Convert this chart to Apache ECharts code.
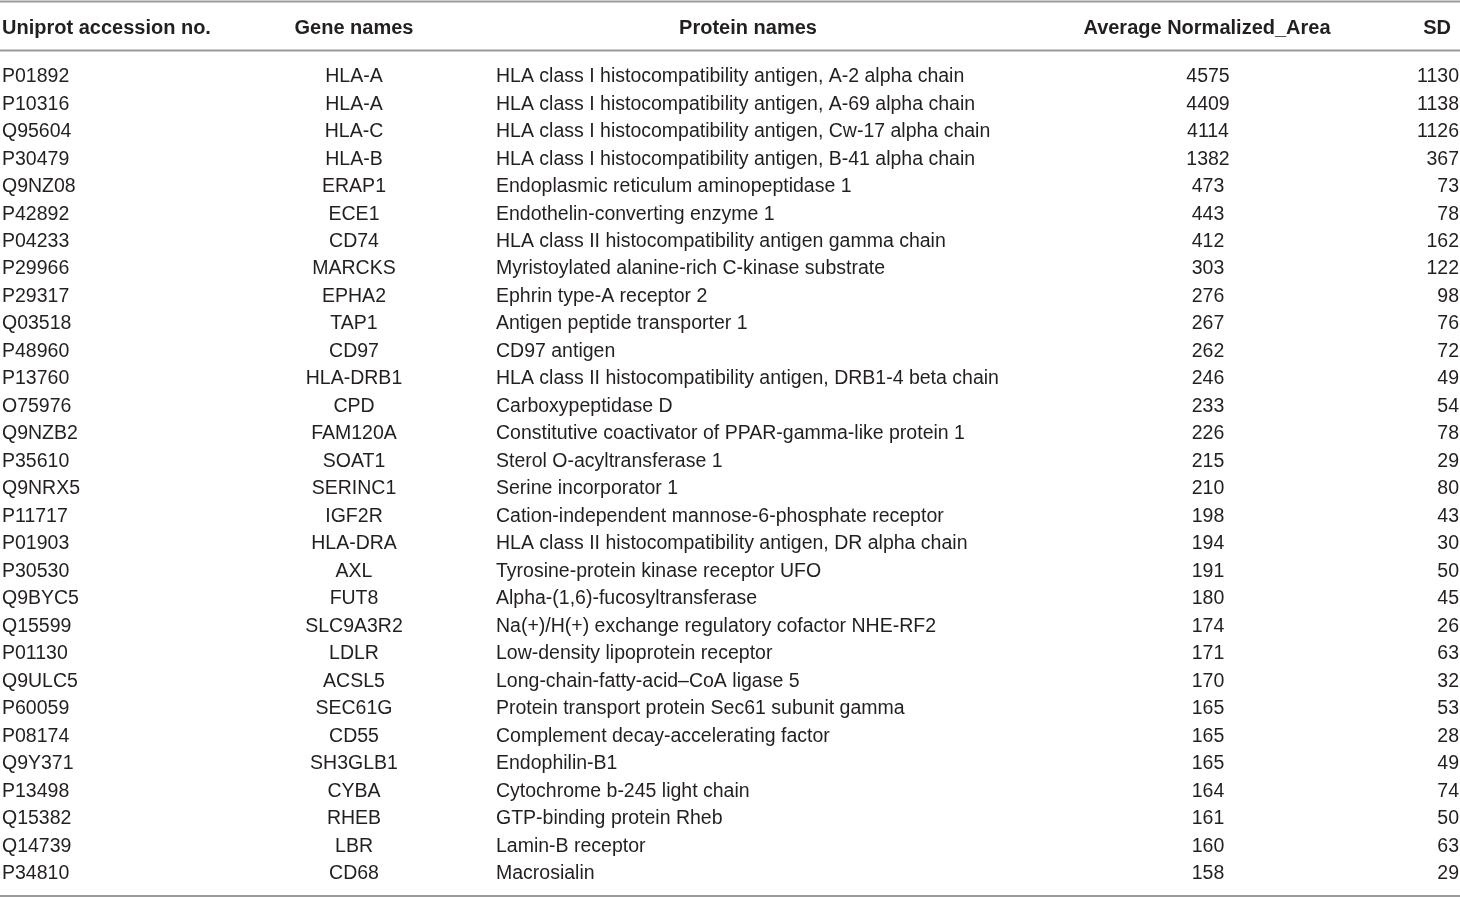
<!DOCTYPE html>
<html>
<head>
<meta charset="utf-8">
<script src="https://cdn.jsdelivr.net/npm/echarts@6/dist/echarts.min.js"></script>
<style>
  html, body { margin: 0; padding: 0; background: #fff; }
  #main { width: 1460px; height: 898px; }
</style>
</head>
<body>
<div id="main"></div>
<script>
var headers = ['Uniprot accession no.', 'Gene names', 'Protein names', 'Average Normalized_Area', 'SD'];

var accession = ['P01892', 'P10316', 'Q95604', 'P30479', 'Q9NZ08', 'P42892', 'P04233', 'P29966', 'P29317', 'Q03518',
  'P48960', 'P13760', 'O75976', 'Q9NZB2', 'P35610', 'Q9NRX5', 'P11717', 'P01903', 'P30530', 'Q9BYC5',
  'Q15599', 'P01130', 'Q9ULC5', 'P60059', 'P08174', 'Q9Y371', 'P13498', 'Q15382', 'Q14739', 'P34810'];

var genes = ['HLA-A', 'HLA-A', 'HLA-C', 'HLA-B', 'ERAP1', 'ECE1', 'CD74', 'MARCKS', 'EPHA2', 'TAP1',
  'CD97', 'HLA-DRB1', 'CPD', 'FAM120A', 'SOAT1', 'SERINC1', 'IGF2R', 'HLA-DRA', 'AXL', 'FUT8',
  'SLC9A3R2', 'LDLR', 'ACSL5', 'SEC61G', 'CD55', 'SH3GLB1', 'CYBA', 'RHEB', 'LBR', 'CD68'];

var proteins = [
  'HLA class I histocompatibility antigen, A-2 alpha chain',
  'HLA class I histocompatibility antigen, A-69 alpha chain',
  'HLA class I histocompatibility antigen, Cw-17 alpha chain',
  'HLA class I histocompatibility antigen, B-41 alpha chain',
  'Endoplasmic reticulum aminopeptidase 1',
  'Endothelin-converting enzyme 1',
  'HLA class II histocompatibility antigen gamma chain',
  'Myristoylated alanine-rich C-kinase substrate',
  'Ephrin type-A receptor 2',
  'Antigen peptide transporter 1',
  'CD97 antigen',
  'HLA class II histocompatibility antigen, DRB1-4 beta chain',
  'Carboxypeptidase D',
  'Constitutive coactivator of PPAR-gamma-like protein 1',
  'Sterol O-acyltransferase 1',
  'Serine incorporator 1',
  'Cation-independent mannose-6-phosphate receptor',
  'HLA class II histocompatibility antigen, DR alpha chain',
  'Tyrosine-protein kinase receptor UFO',
  'Alpha-(1,6)-fucosyltransferase',
  'Na(+)/H(+) exchange regulatory cofactor NHE-RF2',
  'Low-density lipoprotein receptor',
  'Long-chain-fatty-acid\u2013CoA ligase 5',
  'Protein transport protein Sec61 subunit gamma',
  'Complement decay-accelerating factor',
  'Endophilin-B1',
  'Cytochrome b-245 light chain',
  'GTP-binding protein Rheb',
  'Lamin-B receptor',
  'Macrosialin'];

var avgArea = [4575, 4409, 4114, 1382, 473, 443, 412, 303, 276, 267,
  262, 246, 233, 226, 215, 210, 198, 194, 191, 180,
  174, 171, 170, 165, 165, 165, 164, 161, 160, 158];

var sd = [1130, 1138, 1126, 367, 73, 78, 162, 122, 98, 76,
  72, 49, 54, 78, 29, 80, 43, 30, 50, 45,
  26, 63, 32, 53, 28, 49, 74, 50, 63, 29];

// column anchors on the x value axis (0..1460)
var colX = [2, 354, 496, 1208, 1459];
var colAlign = ['left', 'center', 'left', 'center', 'right'];
var headX = [2, 354, 748, 1207, 1451];
var headAlign = ['left', 'center', 'center', 'center', 'right'];

var FONT = '"Liberation Sans", Arial, sans-serif';
var INK = '#231f20';
var RULE = '#9a9a9a';

var rowIdx = accession.map(function (_, i) { return i; });

var chart = echarts.init(document.getElementById('main'));

function bodyItem(params, api) {
  var i = api.value(1);
  var cells = [accession[i], genes[i], proteins[i], String(avgArea[i]), String(sd[i])];
  var children = cells.map(function (t, c) {
    var p = api.coord([colX[c], i]);
    return {
      type: 'text',
      style: {
        x: p[0], y: p[1], text: t,
        fill: INK, font: '19.5px ' + FONT,
        textAlign: colAlign[c], textVerticalAlign: 'middle'
      }
    };
  });
  return { type: 'group', children: children };
}

function headItem(params, api) {
  var children = headers.map(function (t, c) {
    var p = api.coord([headX[c], 0]);
    return {
      type: 'text',
      style: {
        x: p[0], y: p[1], text: t,
        fill: INK, font: 'bold 20px ' + FONT,
        textAlign: headAlign[c], textVerticalAlign: 'middle'
      }
    };
  });
  return { type: 'group', children: children };
}

var option = {
  animation: false,
  grid: [
    { left: 0, right: 0, top: 15, height: 26 },
    { left: 0, right: 0, top: 63, bottom: 10.6 }
  ],
  xAxis: [
    { gridIndex: 0, type: 'value', min: 0, max: 1460, show: false },
    { gridIndex: 1, type: 'value', min: 0, max: 1460, show: false }
  ],
  yAxis: [
    { gridIndex: 0, type: 'category', data: ['header'], show: false },
    { gridIndex: 1, type: 'category', data: rowIdx, inverse: true, show: false }
  ],
  graphic: [
    { type: 'rect', shape: { x: 0, y: 0.5, width: 1460, height: 2 }, style: { fill: RULE } },
    { type: 'rect', shape: { x: 0, y: 49.5, width: 1460, height: 2 }, style: { fill: RULE } },
    { type: 'rect', shape: { x: 0, y: 895, width: 1460, height: 2 }, style: { fill: RULE } }
  ],
  series: [
    {
      type: 'custom', xAxisIndex: 0, yAxisIndex: 0,
      data: [[0, 0]], renderItem: headItem, silent: true
    },
    {
      type: 'custom', xAxisIndex: 1, yAxisIndex: 1,
      data: rowIdx.map(function (i) { return [0, i]; }),
      renderItem: bodyItem, silent: true
    }
  ]
};

chart.setOption(option);
window.addEventListener('resize', function () { chart.resize(); });
</script>
</body>
</html>
